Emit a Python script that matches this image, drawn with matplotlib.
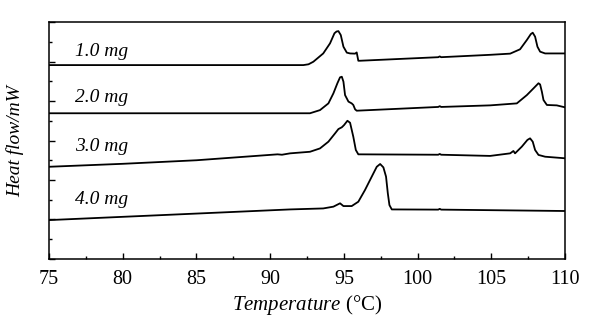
import matplotlib
matplotlib.use("Agg")
import matplotlib.pyplot as plt
from matplotlib.ticker import MultipleLocator, NullFormatter

plt.rcParams['font.family'] = 'Liberation Serif'
plt.rcParams['mathtext.fontset'] = 'custom'
plt.rcParams['mathtext.it'] = 'Liberation Serif:italic'
plt.rcParams['mathtext.rm'] = 'Liberation Serif'

# curvas DSC, desplazadas verticalmente (unidades arbitrarias)
t1 = [75, 91.35, 92.25, 92.6, 92.93, 93.6, 94.06, 94.36, 94.5, 94.63, 94.79, 94.97,
      95.2, 95.42, 95.76, 95.87, 95.98, 96.1, 101.4, 101.5, 101.6, 104.92,
      106.28, 106.95, 107.41, 107.68, 107.81, 107.97, 108.13, 108.31, 108.65, 110]
h1 = [9.82, 9.82, 9.82, 9.86, 9.99, 10.41, 10.92, 11.43, 11.52, 11.54, 11.34, 10.75,
      10.45, 10.41, 10.4, 10.46, 10.04, 10.04, 10.22, 10.26, 10.22, 10.34,
      10.4, 10.62, 11.09, 11.39, 11.46, 11.26, 10.75, 10.5, 10.41, 10.41]

t2 = [75, 92.7, 93.38, 93.95, 94.29, 94.56, 94.74, 94.86, 94.97, 95.08, 95.31, 95.53,
      95.64, 95.76, 95.87, 101.4, 101.5, 101.6, 104.92, 106.73, 107.41, 107.86,
      108.2, 108.31, 108.43, 108.54, 108.77, 109.44, 110]
h2 = [7.38, 7.38, 7.54, 7.88, 8.39, 8.9, 9.2, 9.23, 8.98, 8.3, 7.97, 7.88,
      7.8, 7.58, 7.51, 7.7, 7.74, 7.7, 7.78, 7.88, 8.3, 8.64,
      8.9, 8.84, 8.47, 8.05, 7.8, 7.78, 7.68]

t3 = [75, 80, 85, 90.5, 90.8, 91.35, 92.7, 93.38, 93.95, 94.4, 94.63, 94.86, 95.01,
      95.24, 95.42, 95.64, 95.81, 95.98, 101.4, 101.5, 101.6, 104.92, 106.28, 106.5,
      106.61, 107.07, 107.45, 107.63, 107.81, 107.97, 108.2, 108.65, 110]
h3 = [4.67, 4.82, 5.0, 5.3, 5.28, 5.35, 5.43, 5.6, 5.94, 6.36, 6.58, 6.67, 6.78,
      7.0, 6.9, 6.19, 5.52, 5.3, 5.28, 5.32, 5.28, 5.22, 5.35, 5.47,
      5.35, 5.69, 6.03, 6.11, 5.94, 5.52, 5.27, 5.18, 5.1]

t4 = [75, 85, 91.35, 93.6, 94.29, 94.74, 94.97, 95.53, 95.98, 96.43, 96.89, 97.23,
      97.46, 97.68, 97.86, 97.98, 98.09, 98.25, 101.4, 101.5, 101.6, 110]
h4 = [1.97, 2.3, 2.51, 2.56, 2.65, 2.82, 2.68, 2.68, 2.9, 3.49, 4.17, 4.67,
      4.81, 4.64, 4.17, 3.33, 2.73, 2.51, 2.5, 2.54, 2.5, 2.43]

etiquetas = ["1.0 mg", "2.0 mg", "3.0 mg", "4.0 mg"]
y_etiquetas = [10.5, 8.17, 5.69, 2.99]

fig = plt.figure(figsize=(6, 3.34), dpi=100)
ax = fig.add_axes([0.0817, 0.2246, 0.86, 0.7094])

for t, h in [(t1, h1), (t2, h2), (t3, h3), (t4, h4)]:
    ax.plot(t, h, color='black', lw=1.3)

for texto, y in zip(etiquetas, y_etiquetas):
    ax.text(76.75, y, texto, fontsize=14, style='italic', va='center', ha='left')

ax.set_xlim(75, 110)
ax.set_ylim(0, 12)
ax.xaxis.set_major_locator(MultipleLocator(5))
ax.xaxis.set_minor_locator(MultipleLocator(2.5))
ax.yaxis.set_major_locator(MultipleLocator(2))
ax.yaxis.set_minor_locator(MultipleLocator(1))
ax.yaxis.set_major_formatter(NullFormatter())
ax.tick_params(which='both', direction='in', top=False, right=False)
ax.tick_params(which='major', length=4, width=1, labelsize=14.5, pad=8)
ax.tick_params(which='minor', length=2.5, width=1)
for s in ax.spines.values():
    s.set_linewidth(1.1)

ax.set_xlabel(r"$\it{Temperature}$ (°C)", fontsize=15, labelpad=3)
ax.set_ylabel("Heat flow/mW", fontsize=14, style='italic', labelpad=10)

fig.savefig("out.png", dpi=100)
